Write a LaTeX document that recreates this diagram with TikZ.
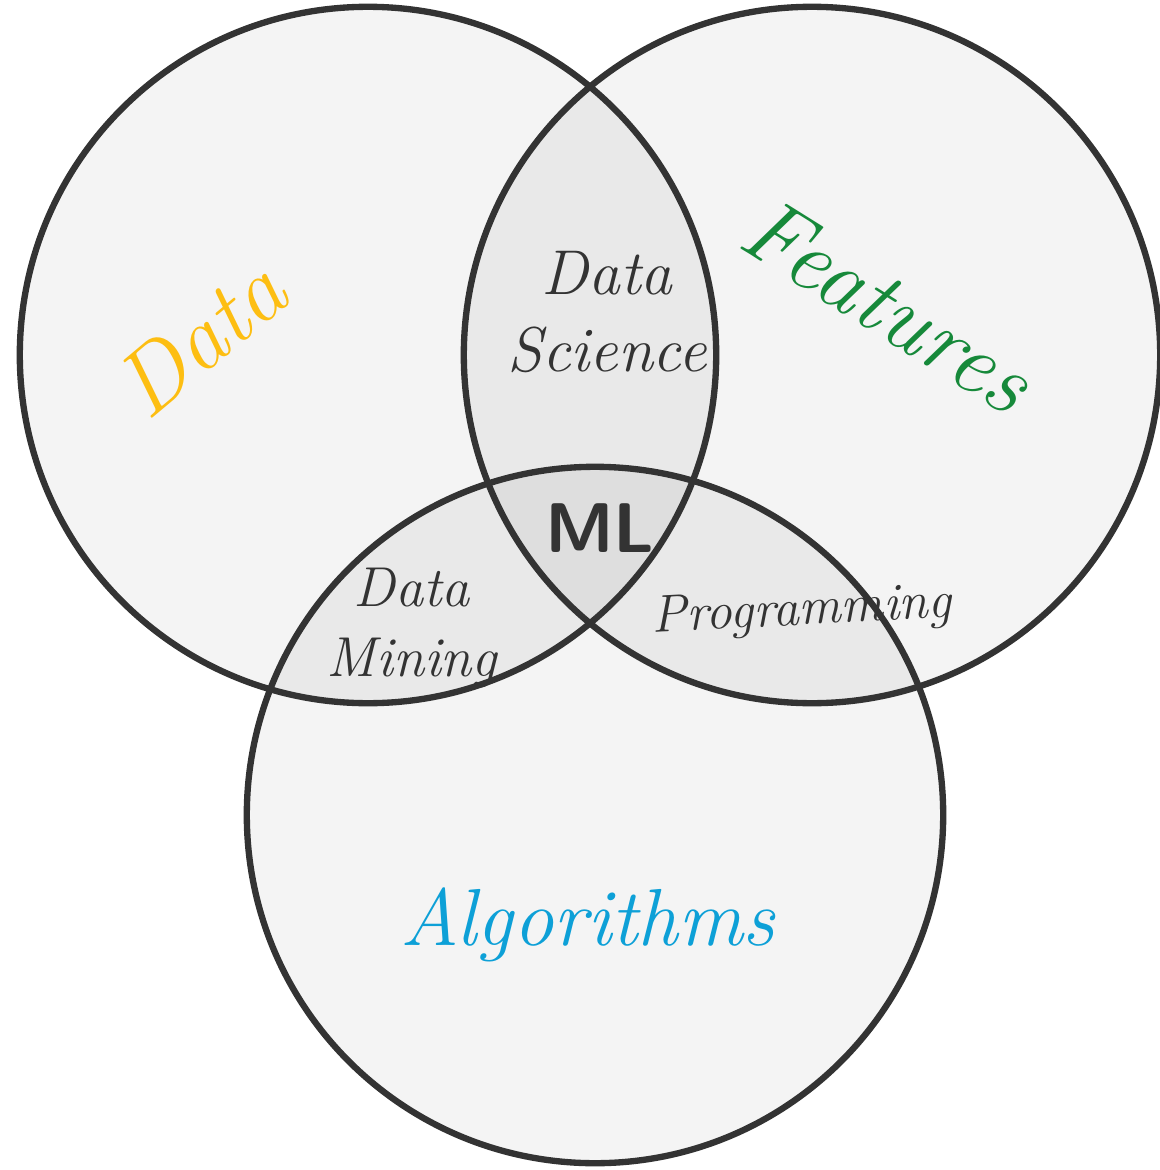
\documentclass[tikz,border=0pt]{standalone}
\usepackage[dvipsnames]{xcolor}

\definecolor{ringline}{HTML}{333333}
\definecolor{ringfill}{HTML}{F4F4F4}
\definecolor{pairfill}{HTML}{E9E9E9}
\definecolor{corefill}{HTML}{DEDEDE}
\definecolor{datayellow}{HTML}{FDBE12}
\definecolor{featgreen}{HTML}{16893A}
\definecolor{algoblue}{HTML}{0DA0D7}

\begin{document}
\begin{tikzpicture}[x=0.01cm,y=-0.01cm,
    ring/.style={draw=ringline,line width=1.8pt},
    hand/.style={font=\itshape\fontsize{18}{22}\selectfont,text=ringline,align=center,inner sep=1pt},
    big hand/.style={font=\itshape\fontsize{26}{30}\selectfont}]

    \useasboundingbox (0,0) rectangle (1159,1170);
    \def\ringr{3.48cm}

    \coordinate (data) at (368,355);
    \coordinate (feat) at (812,355);
    \coordinate (algo) at (595,815);

    % plain discs first, then the overlaps on top
    \fill[ringfill] (data) circle[radius=\ringr];
    \fill[ringfill] (feat) circle[radius=\ringr];
    \fill[ringfill] (algo) circle[radius=\ringr];

    \begin{scope}
        \clip (data) circle[radius=\ringr];
        \fill[pairfill] (feat) circle[radius=\ringr];
        \fill[pairfill] (algo) circle[radius=\ringr];
    \end{scope}
    \begin{scope}
        \clip (feat) circle[radius=\ringr];
        \fill[pairfill] (algo) circle[radius=\ringr];
    \end{scope}
    \begin{scope}
        \clip (data) circle[radius=\ringr];
        \clip (feat) circle[radius=\ringr];
        \fill[corefill] (algo) circle[radius=\ringr];
    \end{scope}

    \draw[ring] (data) circle[radius=\ringr];
    \draw[ring] (feat) circle[radius=\ringr];
    \draw[ring] (algo) circle[radius=\ringr];

    \node[hand, big hand, text=datayellow, rotate=40] (datalbl) at (200,338) {Data};
    \node[hand, big hand, text=featgreen, rotate=-32] (featlbl) at (888,305) {Features};
    \node[hand, big hand, text=algoblue, font=\itshape\fontsize{23}{27}\selectfont] (algolbl) at (588,925) {Algorithms};

    \node[hand] (scilbl) at (607,312) {Data\\Science};
    \node[hand, font=\itshape\fontsize{16}{20}\selectfont] (minelbl) at (412,628) {Data\\Mining};
    \node[hand, font=\itshape\fontsize{15}{18}\selectfont, rotate=3] (proglbl) at (802,612) {Programming};
    \node[font=\bfseries\sffamily\fontsize{20}{24}\selectfont, text=ringline] (mllbl) at (600,528) {ML};
\end{tikzpicture}
\end{document}
